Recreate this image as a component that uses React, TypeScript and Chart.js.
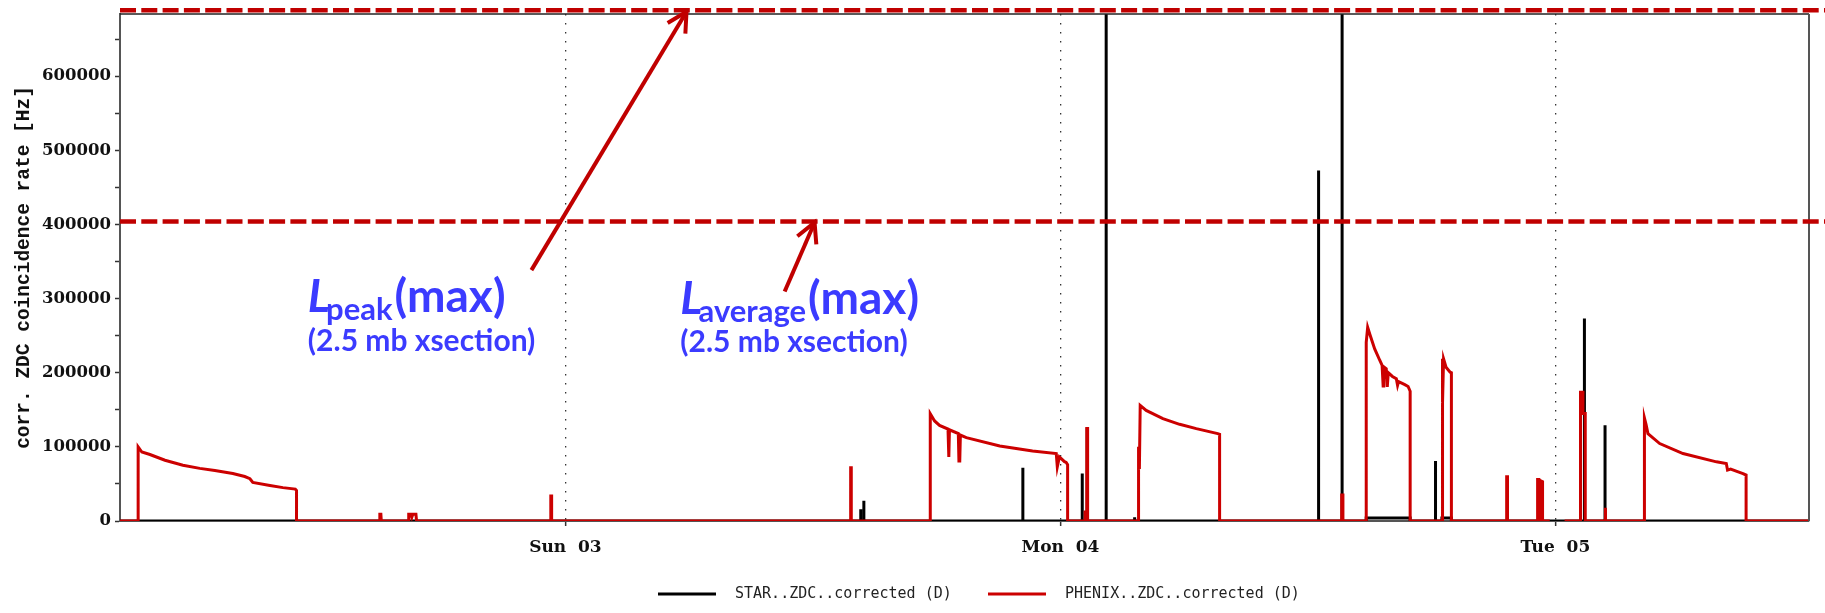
import React, { useEffect, useRef } from 'react';
import { Chart, registerables } from 'chart.js';

Chart.register(...registerables);

// ---- axis data ----
const xMinHour = 2.4; // hours since Sat 02 00:00
const xMaxHour = 84.3;
const xTickHours = [24, 48, 72];
const xTickLabels = ['Sun  03', 'Mon  04', 'Tue  05'];
const yMax = 684000;
const yLabelStep = 100000;
const yMinorStep = 50000;

// ---- reference limits (2.5 mb xsection) ----
const peakLimit = 689000;
const averageLimit = 404000;

// ---- PHENIX..ZDC..corrected (D) ----
const phenixHours = [
  2.4, 3.28, 3.28, 3.46, 3.85, 4.58, 5.45, 6.27, 7.0, 7.87, 8.45, 8.7, 8.84, 9.67, 10.3, 10.9, 10.96, 10.96,
  14.98, 15.0, 15.05, 15.07,
  16.37, 16.4, 16.5, 16.55, 16.6, 16.75, 16.78,
  23.29, 23.29, 23.33, 23.33,
  37.83, 37.83, 37.86, 37.86,
  41.69, 41.69, 41.9, 42.14, 42.55, 42.59, 42.62, 43.05, 43.08, 43.12, 43.15, 43.44, 45.06, 46.65, 47.8, 47.85, 47.95, 48.2, 48.28, 48.35, 48.35,
  49.2, 49.2, 49.28, 49.28, 49.32, 49.32,
  51.79, 51.79, 51.83, 51.87, 52.16, 52.97, 53.78, 54.59, 55.63, 55.72, 55.72,
  61.64, 61.64, 61.7, 61.7,
  62.83, 62.83, 62.9, 63.0, 63.24, 63.49, 63.6, 63.65, 63.68, 63.8, 63.85, 63.9, 64.1, 64.29, 64.35, 64.4, 64.7, 64.86, 64.96, 64.96,
  66.51, 66.51, 66.55, 66.58, 66.7, 66.9, 66.96, 66.96,
  69.64, 69.64, 69.68, 69.68,
  71.14, 71.14, 71.2, 71.2, 71.3, 71.3, 71.38, 71.38, 71.73,
  72.0,
  72.45, 73.22, 73.22, 73.34, 73.34, 73.45, 73.45,
  74.41, 74.41, 74.44, 74.44,
  76.32, 76.32, 76.4, 76.49, 77.06, 78.19, 79.81, 80.29, 80.35, 80.5, 80.9, 81.1, 81.25, 81.25,
  84.3,
];
const phenixRates = [
  0, 0, 100000, 93000, 89700, 82000, 75300, 71000, 68000, 64000, 60000, 57000, 52000, 48000, 45000, 43000, 41000, 0,
  0, 9000, 9000, 0,
  0, 9000, 9000, 5000, 9000, 9000, 0,
  0, 33600, 33600, 0,
  0, 71700, 71700, 0,
  0, 144800, 135000, 129000, 124000, 86400, 123000, 118000, 81000, 81000, 116000, 112500, 101200, 94500, 91000, 73000, 86400, 80000, 78900, 76000, 0,
  0, 12000, 12000, 124600, 124600, 0,
  0, 100000, 70000, 155900, 149200, 138000, 130400, 124600, 117900, 117000, 0,
  0, 35000, 35000, 0,
  0, 241000, 261200, 252300, 232200, 216500, 210000, 182000, 208000, 205300, 181000, 200000, 195000, 191800, 183000, 188000, 184000, 181500, 175000, 0,
  0, 218700, 160000, 218700, 207400, 200700, 200000, 0,
  0, 59600, 59600, 0,
  0, 56000, 56000, 0, 0, 54000, 52900, 0, 0,
  null,
  0, 0, 173800, 173800, 145000, 145000, 0,
  0, 17900, 17900, 0,
  0, 138900, 130000, 117900, 104500, 91000, 79800, 77600, 68600, 70000, 66000, 64000, 62000, 0,
  0,
];

// ---- STAR..ZDC..corrected (D) ----
const starHours = [
  2.4,
  38.32, 38.32, 38.32,
  38.47, 38.47, 38.47,
  46.18, 46.18, 46.18,
  49.06, 49.06, 49.06,
  49.3, 49.3, 49.3,
  50.22, 50.22, 50.22,
  51.6, 51.6, 51.6,
  60.52, 60.52, 60.52,
  61.66, 61.66, 61.66,
  62.83, 62.83, 64.96, 64.96,
  66.19, 66.19, 66.19,
  66.5, 66.5, 66.96, 66.96,
  73.41, 73.41, 73.41,
  74.41, 74.41, 74.41,
  84.3,
];
const starRates = [
  0,
  0, 15700, 0,
  0, 27300, 0,
  0, 71700, 0,
  0, 64100, 0,
  0, 126000, 0,
  0, 900000, 0,
  0, 5000, 0,
  0, 472800, 0,
  0, 900000, 0,
  0, 4000, 4000, 0,
  0, 81000, 0,
  0, 4000, 4000, 0,
  0, 273300, 0,
  0, 129000, 0,
  0,
];

const legendLabels = ['STAR..ZDC..corrected (D)', 'PHENIX..ZDC..corrected (D)'];
const seriesColors = ['#000000', '#cc0000'];

const BLUE = '#3b3bff';
const DARK_RED = '#c00000';

const drawArrow = (ctx: CanvasRenderingContext2D, x0: number, y0: number, x1: number, y1: number) => {
  const ang = Math.atan2(y0 - y1, x0 - x1);
  const len = 22;
  const spread = (28 * Math.PI) / 180;
  ctx.beginPath();
  ctx.moveTo(x0, y0);
  ctx.lineTo(x1, y1);
  ctx.stroke();
  ctx.beginPath();
  ctx.moveTo(x1 + Math.cos(ang - spread) * len, y1 + Math.sin(ang - spread) * len);
  ctx.lineTo(x1, y1);
  ctx.lineTo(x1 + Math.cos(ang + spread) * len, y1 + Math.sin(ang + spread) * len);
  ctx.stroke();
};

const drawLabel = (
  ctx: CanvasRenderingContext2D,
  x0: number,
  base: number,
  base2: number,
  sub: string,
) => {
  ctx.fillStyle = BLUE;
  ctx.textAlign = 'left';
  ctx.textBaseline = 'alphabetic';
  ctx.font = 'italic bold 46px Lato';
  ctx.fillText('L', x0, base);
  let x = x0 + ctx.measureText('L').width - 4;
  ctx.font = 'bold 31px Lato';
  ctx.fillText(sub, x, base + 8);
  x += ctx.measureText(sub).width + 2;
  ctx.font = 'bold 46px Lato';
  ctx.fillText('(max)', x, base);
  ctx.font = 'bold 30px Lato';
  ctx.fillText('(2.5 mb xsection)', x0, base2);
};

const overlayPlugin = {
  id: 'overlay',
  afterDraw(chart: any) {
    const { ctx, chartArea: ca, scales } = chart;
    const xs = scales.x;
    const ys = scales.y;
    ctx.save();
    // frame
    ctx.setLineDash([]);
    ctx.strokeStyle = '#222';
    ctx.lineWidth = 1.5;
    ctx.beginPath();
    ctx.moveTo(ca.left, ca.top);
    ctx.lineTo(ca.right, ca.top);
    ctx.stroke();
    ctx.strokeStyle = '#555';
    ctx.lineWidth = 2;
    ctx.beginPath();
    ctx.moveTo(ca.right, ca.top);
    ctx.lineTo(ca.right, ca.bottom);
    ctx.stroke();

    // limit lines
    ctx.strokeStyle = DARK_RED;
    ctx.lineWidth = 4.5;
    ctx.setLineDash([16, 5.3]);
    [peakLimit, averageLimit].forEach((v) => {
      const py = ys.getPixelForValue(v);
      ctx.beginPath();
      ctx.moveTo(ca.left, py);
      ctx.lineTo(chart.width, py);
      ctx.stroke();
    });
    ctx.setLineDash([]);

    // arrows
    ctx.lineWidth = 4;
    ctx.lineJoin = 'miter';
    drawArrow(ctx, xs.getPixelForValue(22.35), ys.getPixelForValue(338400), xs.getPixelForValue(29.87), ys.getPixelForValue(peakLimit) + 1.5);
    drawArrow(ctx, xs.getPixelForValue(34.63), ys.getPixelForValue(309600), xs.getPixelForValue(36.08), ys.getPixelForValue(averageLimit) + 1);

    // annotation texts
    drawLabel(ctx, xs.getPixelForValue(11.51), ys.getPixelForValue(282300), ys.getPixelForValue(229900), 'peak');
    drawLabel(ctx, xs.getPixelForValue(29.57), ys.getPixelForValue(279600), ys.getPixelForValue(227600), 'average');

    // legend
    const center = (ca.left + ca.right) / 2;
    const ly = 594;
    let lx = center - 306.5;
    legendLabels.forEach((lab, i) => {
      ctx.strokeStyle = seriesColors[i];
      ctx.lineWidth = 3;
      ctx.beginPath();
      ctx.moveTo(lx, ly);
      ctx.lineTo(lx + 58, ly);
      ctx.stroke();
      ctx.fillStyle = '#222';
      ctx.font = '15px "DejaVu Sans Mono"';
      ctx.textAlign = 'left';
      ctx.textBaseline = 'middle';
      ctx.fillText(lab, lx + 77, ly);
      lx += 330;
    });
    ctx.restore();
  },
};

export default function App() {
  const canvasRef = useRef<HTMLCanvasElement | null>(null);

  useEffect(() => {
    const canvas = canvasRef.current;
    if (!canvas) return;
    const starPoints = starHours.map((h, i) => ({ x: h, y: starRates[i] }));
    const phenixPoints = phenixHours.map((h, i) => ({ x: h, y: phenixRates[i] }));

    const chart = new Chart(canvas, {
      type: 'line',
      data: {
        datasets: [
          {
            label: legendLabels[0],
            data: starPoints as any,
            borderColor: seriesColors[0],
            borderWidth: 3,
            pointRadius: 0,
            tension: 0,
            order: 2,
          },
          {
            label: legendLabels[1],
            data: phenixPoints as any,
            borderColor: seriesColors[1],
            borderWidth: 3,
            pointRadius: 0,
            tension: 0,
            spanGaps: false,
            order: 1,
          },
        ],
      },
      plugins: [overlayPlugin],
      options: {
        animation: false,
        responsive: false,
        devicePixelRatio: 1,
        layout: { padding: { left: 0, right: 16, top: 12, bottom: 0 } },
        plugins: {
          legend: { display: false },
          tooltip: { enabled: false },
        },
        scales: {
          x: {
            type: 'linear',
            min: xMinHour,
            max: xMaxHour,
            afterBuildTicks: (s: any) => {
              s.ticks = xTickHours.map((v) => ({ value: v }));
            },
            afterFit: (s: any) => {
              s.height = 92;
            },
            ticks: {
              autoSkip: false,
              maxRotation: 0,
              padding: 11,
              color: '#111',
              font: { family: 'DejaVu Serif', weight: 'bold', size: 17 },
              callback: (v: any) => {
                const i = xTickHours.indexOf(Number(v));
                return i >= 0 ? xTickLabels[i] : '';
              },
            },
            grid: {
              drawOnChartArea: true,
              color: '#333',
              lineWidth: 1.3,
              tickLength: 5,
              tickColor: '#333',
              tickWidth: 1.5,
            },
            border: { display: true, color: '#555', width: 2, dash: [1.5, 7.5] },
          },
          y: {
            type: 'linear',
            min: 0,
            max: yMax,
            afterBuildTicks: (s: any) => {
              const t: any[] = [];
              for (let v = 0; v <= yMax; v += yMinorStep) t.push({ value: v });
              s.ticks = t;
            },
            afterFit: (s: any) => {
              s.width = 120;
            },
            ticks: {
              padding: 4,
              color: '#111',
              font: { family: 'DejaVu Serif', weight: 'bold', size: 16.5 },
              callback: (v: any) => (Number(v) % yLabelStep === 0 ? String(v) : ''),
            },
            grid: {
              drawOnChartArea: false,
              drawTicks: true,
              tickLength: 5,
              tickColor: '#333',
              tickWidth: 1.5,
            },
            border: { display: true, color: '#555', width: 2 },
            title: {
              display: true,
              text: 'corr. ZDC coincidence rate [Hz]',
              color: '#111',
              font: { family: 'Liberation Mono', weight: 'bold', size: 19.5 },
              padding: { top: 12, bottom: 0 },
            },
          },
        },
      },
    });
    return () => chart.destroy();
  }, []);

  return (
    <div style={{ position: 'absolute', left: 0, top: 0, width: 1825, height: 613, background: '#fff' }}>
      <canvas ref={canvasRef} width={1825} height={613} style={{ display: 'block' }} />
    </div>
  );
}
